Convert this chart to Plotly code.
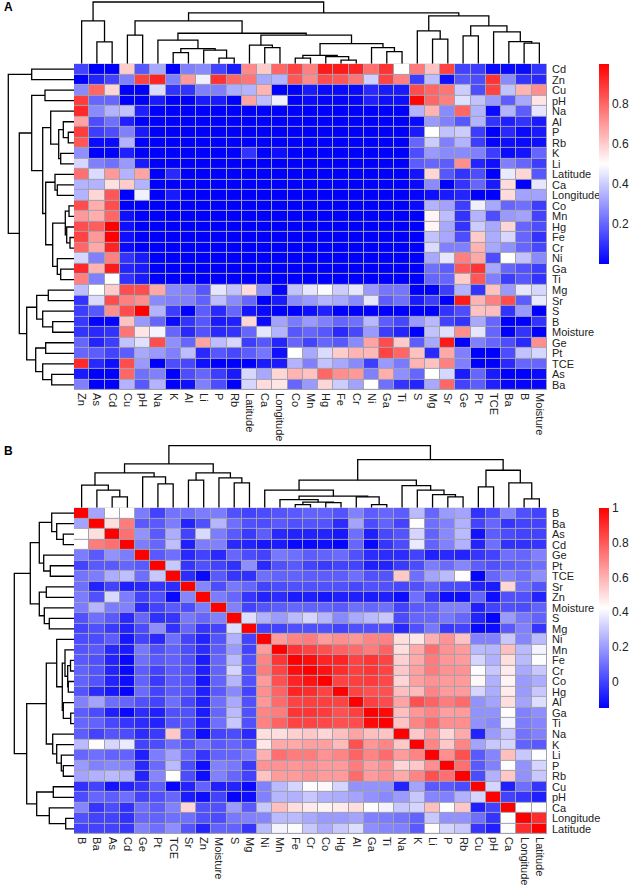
# -*- coding: utf-8 -*-
# Two clustered heatmaps (A: p values, B: correlations) with dendrograms
import plotly.graph_objects as go

W, H = 629, 886

# ---- panel A ----
a_cols = ["Zn", "As", "Cd", "Cu", "pH", "Na", "K", "Al", "Li", "P", "Rb", "Latitude", "Ca", "Longitude", "Co", "Mn",
          "Hg", "Fe", "Cr", "Ni", "Ga", "Ti", "S", "Mg", "Sr", "Ge", "Pt", "TCE", "Ba", "B", "Moisture"]
a_rows = ["Cd", "Zn", "Cu", "pH", "Na", "Al", "P", "Rb", "K", "Li", "Latitude", "Ca", "Longitude", "Co", "Mn", "Hg",
          "Fe", "Cr", "Ni", "Ga", "Ti", "Mg", "Sr", "S", "B", "Moisture", "Ge", "Pt", "TCE", "As", "Ba"]
a_vals = [
    [.13, 0, 0, .6, .17, .33, 0, .25, .27, .13, .05, .73, .6, .8, .87, .75, .95, .95, .93, .78, .9, .5, .76, .62, .87, .13, .12, .02, .02, .02, .1],
    [0, .07, .13, .25, .87, .93, .25, .7, .47, .9, .8, .77, .33, .35, .83, .73, .85, .83, .77, .41, .87, .75, .12, .37, .03, .17, .15, .9, .27, .1, .08],
    [.27, .8, .58, 0, 0, .43, .1, .1, .25, .25, .34, .35, .65, 0, 0, .05, .02, .02, .02, .08, .05, .05, .85, .8, .77, .4, .15, .87, .38, .65, .72],
    [.88, .2, .2, 0, 0, .05, 0, 0, .05, .05, 0, .68, .37, .47, 0, .02, .01, .01, .01, .06, .03, .03, .99, .8, .75, .44, .38, .3, .18, .33, .55],
    [.92, .27, .35, .38, .06, 0, 0, 0, 0, 0, 0, 0, 0, 0, 0, 0, 0, 0, 0, 0, 0, 0, .35, .65, .27, .8, .35, .02, .35, .18, .45],
    [.68, .15, .22, .06, 0, 0, 0, 0, 0, 0, 0, 0, 0, 0, 0, 0, 0, 0, 0, 0, 0, 0, .02, .3, .25, .17, .35, .1, .06, .1, .05],
    [.88, .12, .15, .25, .05, 0, 0, 0, 0, 0, 0, 0, 0, 0, 0, 0, 0, 0, 0, 0, 0, 0, .05, .5, .38, .4, .12, 0, .08, .02, .05],
    [.83, .02, .02, .35, 0, 0, 0, 0, 0, 0, 0, 0, 0, 0, 0, 0, 0, 0, 0, 0, 0, 0, .2, .4, .25, .35, .12, .01, .03, .02, .03],
    [.28, 0, 0, .06, 0, 0, 0, 0, 0, 0, 0, .1, 0, .03, 0, 0, 0, 0, 0, 0, 0, 0, .15, .3, .27, .27, .25, .12, .02, .04, .2],
    [.42, .25, .22, .3, .05, 0, 0, 0, 0, 0, 0, 0, 0, 0, 0, 0, 0, 0, 0, 0, 0, 0, .18, .2, .18, .72, .07, .03, .25, .2, .12],
    [.78, .43, .7, .35, .68, 0, .08, 0, 0, 0, 0, 0, 0, 0, 0, 0, 0, 0, 0, 0, 0, 0, .04, .58, .17, .1, .15, 0, .46, .58, .17],
    [.35, .35, .56, .6, .35, 0, 0, 0, 0, 0, 0, 0, 0, 0, 0, 0, 0, 0, 0, 0, 0, 0, .02, .27, 0, .1, .2, .05, .57, 0, .45],
    [.35, .58, .83, 0, .47, 0, .05, 0, 0, 0, 0, 0, 0, 0, 0, 0, 0, 0, 0, 0, 0, 0, .01, .03, .05, .07, 0, 0, .57, .32, .32],
    [.85, .66, .85, 0, 0, 0, 0, 0, 0, 0, 0, 0, 0, 0, 0, 0, 0, 0, 0, 0, 0, 0, .02, .35, .32, .12, .47, .33, .2, .22, .12],
    [.7, .66, .8, .03, 0, 0, 0, 0, 0, 0, 0, 0, 0, 0, 0, 0, 0, 0, 0, 0, 0, 0, 0, .52, .37, .1, .35, .15, .3, .32, .13],
    [.85, .82, 1, .03, 0, 0, 0, 0, 0, 0, 0, 0, 0, 0, 0, 0, 0, 0, 0, 0, 0, 0, 0, .52, .33, .1, .4, .33, .58, .2, .15],
    [.87, .7, 1, .03, 0, 0, 0, 0, 0, 0, 0, 0, 0, 0, 0, 0, 0, 0, 0, 0, 0, 0, 0, .38, .33, .15, .6, .34, .42, .2, .1],
    [.8, .67, .93, .02, 0, 0, 0, 0, 0, 0, 0, 0, 0, 0, 0, 0, 0, 0, 0, 0, 0, 0, 0, .43, .25, .25, .65, .33, .28, .2, .14],
    [.42, .25, .75, .1, .05, 0, 0, 0, 0, 0, 0, 0, 0, 0, 0, 0, 0, 0, 0, 0, 0, 0, 0, .33, .45, .75, .67, .15, .5, .38, .27],
    [.92, .65, .95, .07, .05, 0, 0, 0, 0, 0, 0, 0, 0, 0, 0, 0, 0, 0, 0, 0, 0, 0, 0, .22, .18, .83, .9, .33, .2, .16, .12],
    [.75, .25, .5, .1, .05, 0, 0, 0, 0, 0, 0, 0, 0, 0, 0, 0, 0, 0, 0, 0, 0, 0, 0, .2, .2, .6, .83, .25, .12, .17, .1],
    [.37, .5, .6, .85, .85, .67, .27, .25, .17, .45, .38, .57, .27, .01, .38, .45, .49, .4, .45, .3, .23, .23, 0, 0, .12, .35, .1, .62, .3, .45, .42],
    [.1, .43, .85, .75, .72, .27, .25, .25, .19, .37, .27, .2, 0, .05, .27, .3, .35, .33, .27, .45, .18, .22, .05, .12, 0, .95, .65, .75, .85, .18, .46],
    [.12, .17, .72, .85, 1, .35, .12, 0, .18, .08, .2, .04, .02, 0, 0, .03, .06, 0, 0, 0, 0, 0, 0, 0, .1, .15, .62, .63, .1, .3, 0],
    [.11, .01, .01, .62, .3, .2, .02, .1, .17, .05, .06, .58, .02, .32, .24, .3, .25, .2, .22, .36, .18, .14, .3, .36, .13, .1, .33, .2, 0, 0, .1],
    [.1, .08, .1, .77, .55, .48, .2, .08, .16, .08, .1, .2, .45, .35, .17, .2, .17, .08, .14, .3, .12, .07, 0, .38, .44, .72, .45, .2, 0, .1, 0],
    [.2, .07, .12, .38, .44, .85, .28, .2, .68, .37, .42, .12, .17, .07, .2, .13, .2, .17, .27, .68, .85, .6, .18, .33, .95, 0, .25, .2, .15, .08, .72],
    [.2, .18, .13, .18, .33, .3, .25, .37, .08, .17, .14, .18, .23, .03, .5, .33, .43, .6, .65, .64, .87, .8, .62, .08, .67, .25, 0, 0, .15, .38, .42],
    [.92, .08, .03, .85, .3, 0, .15, .14, .03, 0, 0, 0, .05, .05, .35, .25, .38, .33, .27, .12, .3, .24, .65, .62, .75, .25, 0, 0, .08, .2, .2],
    [.05, 0, 0, .8, .22, .25, 0, .15, .2, .12, .05, .42, .33, .58, .65, .62, .8, .72, .7, .25, .66, .28, .2, .5, .42, .05, .2, .05, 0, 0, .02],
    [.25, 0, 0, .35, .17, .35, 0, .03, .25, .15, 0, .42, .57, .55, .2, .3, .58, .4, .32, .5, .22, .1, .07, .33, .8, .13, .18, .06, .01, .01, .01],
]
a_ticks = [0.2, 0.4, 0.6, 0.8]
a_ticktext = ["0.2", "0.4", "0.6", "0.8"]

# dendrograms: (height, child, child), a plain int is a leaf position
a_top = (62, (43, 0, (22, 1, 2)),
         (51, (43, (28.7, 3, 4),
               (30.7, (23.7, 5, (15.3, (11.3, 6, 7), (13.7, 8, (5.7, 9, 10)))),
                (28.7, (18.7, 11, (16.3, 12, 13)),
                 (20.3, (8.5, (5.7, 14, 15), (7.3, 16, (3.7, 17, 18))), (16.3, 19, (12.3, 20, 21)))))),
          (48, (33, 22, (24.7, 23, 24)), (38, (28, 25, 26), (32, 27, (22.3, 28, (20.7, 29, 30)))))))
a_left = (65.7, (42.3, 0, 1),
          (54.7, (42.3, (29, 2, 3),
                  (31.3, (23.3, 4, (15.3, (10.7, 5, (5.7, 6, 7)), (13.3, 8, 9))),
                   (28.3, (19, 10, (16.7, 11, 12)),
                    (21.3, (8.7, (5, 13, 14), (7.3, 15, (4, 16, 17))), (16.7, 18, (13.3, 19, 20)))))),
           (47.3, (37.3, (25.7, 21, 22), (31.3, 23, (21.3, 24, 25))),
            (38.3, (28.3, 26, 27), (31.3, 28, (22.3, 29, 30))))))

# ---- panel B ----
b_labels = ["B", "Ba", "As", "Cd", "Ge", "Pt", "TCE", "Sr", "Zn", "Moisture", "S", "Mg", "Ni", "Mn", "Fe", "Cr",
            "Co", "Hg", "Al", "Ga", "Ti", "Na", "K", "Li", "P", "Rb", "Cu", "pH", "Ca", "Longitude", "Latitude"]
# upper triangle of the correlation matrix, each row starts on the diagonal
b_upper = [
    [1, .22, .43, .43, .13, 0, .11, .1, .13, .13, .03, 0, .02, .04, .05, .07, .07, .04, .14, .06, .08, .06, .27, .08, .2, .22, -.04, .02, .15, .03, 0],
    [1, .5, .72, .05, .05, .13, -.07, .03, .26, .1, .03, .02, .05, .03, .04, .04, -.05, .22, .02, .07, 0, .43, .1, .14, .25, 0, .08, -.03, 0, 0],
    [1, .75, .18, .05, .24, 0, .34, .13, .05, -.02, .06, -.06, -.07, -.07, -.07, -.1, .1, -.08, .01, .04, .33, .07, .16, .27, -.11, .06, .02, 0, 0],
    [1, .13, .08, .28, -.08, .13, .14, -.06, -.07, -.1, -.09, -.13, -.13, -.12, -.14, .08, -.13, -.03, .02, .38, .07, .14, .25, -.07, .1, -.04, -.04, -.03],
    [1, .05, .1, -.06, 0, -.06, .08, .02, 0, .12, .1, .06, .07, .09, .03, -.05, -.05, -.05, 0, -.08, -.06, -.07, -.03, 0, .1, .08, .14],
    [1, .3, -.03, .03, 0, -.04, .17, -.06, .03, .05, 0, -.02, 0, 0, -.08, -.07, -.02, .02, .13, .09, .15, .06, .03, .06, .07, .1],
    [1, -.05, -.13, .05, -.03, -.04, .1, .07, .07, .06, .06, .06, .1, .03, .04, .55, .1, .22, .27, .43, -.14, .08, .14, .1, .17],
    [1, .15, .02, .12, .08, 0, .02, .03, .03, .03, .03, .01, .03, .03, .01, .03, .08, .02, .02, -.07, -.09, .52, .1, .04],
    [1, .13, .08, -.03, -.07, -.05, -.09, -.08, -.1, -.08, -.08, -.09, -.08, -.12, .1, -.03, -.12, -.12, .07, -.12, .03, .03, -.07],
    [1, .14, 0, .04, .06, .08, .07, .07, .05, .1, .08, .1, 0, .05, .07, .14, .14, -.08, 0, .03, .02, .07],
    [1, .35, .25, .2, .27, .33, .26, .16, .23, .27, .3, .02, .08, .08, .12, .08, -.07, -.14, .2, .12, .07],
    [1, 0, 0, .03, .03, .03, 0, .03, .03, .03, -.06, .03, .12, -.02, 0, -.13, -.12, .05, .14, -.03],
    [1, .65, .7, .72, .65, .68, .66, .7, .71, .5, .48, .6, .67, .56, .14, .14, .3, .15, .27],
    [1, .88, .85, .82, .78, .76, .72, .78, .5, .62, .75, .67, .65, .27, .26, .57, .27, .4],
    [1, .97, .92, .92, .85, .88, .85, .53, .62, .72, .66, .65, .33, .25, .5, .27, .42],
    [1, .96, .9, .86, .88, .85, .55, .64, .72, .67, .67, .42, .3, .47, .23, .3],
    [1, .85, .86, .87, .84, .52, .64, .67, .65, .65, .44, .25, .45, .2, .24],
    [1, .85, .82, .82, .57, .58, .7, .65, .65, .33, .24, .47, .2, .3],
    [1, .86, .83, .63, .82, .78, .72, .76, .18, .22, .5, .22, .35],
    [1, .98, .57, .66, .7, .64, .65, .18, .18, .43, .14, .17],
    [1, .56, .7, .76, .68, .68, .18, .16, .4, .13, .15],
    [1, .55, .65, .52, .62, -.07, .2, .3, .11, .14],
    [1, .7, .55, .7, .22, .3, .33, .07, .05],
    [1, .68, .82, .05, .15, .57, .3, .42],
    [1, .75, .05, .14, .42, .18, .33],
    [1, .02, .25, .55, .18, .3],
    [1, .33, -.08, .1, -.03],
    [1, 0, -.03, -.08],
    [1, .42, .42],
    [1, .9],
    [1],
]
b_ticks = [0, 0.2, 0.4, 0.6, 0.8, 1]
b_ticktext = ["0", "0.2", "0.4", "0.6", "0.8", "1"]

b_top = (62.3, (44, (35, (22.7, 0, (17.7, 1, (11, 2, 3))), (31, 4, (24, 5, 6))),
                (35, (27.7, 7, 8), (30, 9, (25, 10, 11)))),
         (48.3, (27.7, (17.7, 12, (11.7, (8.3, 13, (5.7, (3.3, 14, 15), (5.3, 16, 17))), (11, 18, (3.3, 19, 20)))),
                 (22.3, 21, (17.7, 22, (13.3, 23, (11, 24, 25))))),
          (37.7, (21, 26, 27), (25, 28, (9, 29, 30)))))
b_left = (59.7, (43.7, (34.7, (22.3, 0, (17.3, 1, (10.7, 2, 3))), (30.3, 4, (23.7, 5, 6))),
                 (34.7, (27.7, 7, 8), (29.7, 9, (24.7, 10, 11)))),
          (47.3, (27.7, (17.3, 12, (11.7, (9, 13, (6.3, (3.5, 14, 15), (5.7, 16, 17))), (10.7, 18, (3.3, 19, 20)))),
                  (21.3, 21, (17.3, 22, (12.7, 23, (10.7, 24, 25))))),
           (37.3, (20.7, 26, 27), (24.7, 28, (8.3, 29, 30)))))

b_vals = [[0.0] * 31 for _ in range(31)]
for i, row in enumerate(b_upper):
    for k, v in enumerate(row):
        b_vals[i][i + k] = v
        b_vals[i + k][i] = v

colorscale = [[0, "#0000ff"], [0.5, "#ffffff"], [1, "#ff0000"]]
font_name = "Liberation Sans"


def tree_lines(node, pos_out, h_out):
    # walks the tree, returns (leaf position, height) of this node
    if isinstance(node, int):
        return node, 0
    h, left, right = node
    p1, h1 = tree_lines(left, pos_out, h_out)
    p2, h2 = tree_lines(right, pos_out, h_out)
    pos_out += [p1, p1, p2, p2, None]
    h_out += [h1, h, h, h2, None]
    return (p1 + p2) / 2, h


def add_panel(fig, n, top, cols, rows, vals, tree_top, tree_left, zmin, zmax, ticks, ticktext, bar_len):
    # n: first axis number of this panel (heat, top tree, left tree)
    heat_l, heat_r, heat_h, tree_w = 74, 547, 327, 74
    ids = [str(n), str(n + 1), str(n + 2)]
    ids = ["" if i == "1" else i for i in ids]

    fig.add_trace(go.Heatmap(
        z=vals, x=cols, y=rows, xaxis="x" + ids[0], yaxis="y" + ids[0],
        zmin=zmin, zmax=zmax, colorscale=colorscale, xgap=1, ygap=1, hoverinfo="skip",
        colorbar=dict(x=599 / W, xanchor="left", y=1 - top / H, yanchor="top", len=bar_len, lenmode="pixels",
                      thickness=10, thicknessmode="pixels", xpad=0, ypad=0, outlinewidth=0, ticks="",
                      tickmode="array", tickvals=ticks, ticktext=ticktext,
                      tickfont=dict(family=font_name, size=12, color="#222222"))))

    xs, ys = [], []
    tree_lines(tree_top, xs, ys)
    fig.add_trace(go.Scatter(x=xs, y=ys, xaxis="x" + ids[1], yaxis="y" + ids[1], mode="lines",
                             line=dict(color="black", width=1.3), hoverinfo="skip", showlegend=False, cliponaxis=False))
    ys, xs = [], []
    tree_lines(tree_left, ys, xs)
    fig.add_trace(go.Scatter(x=xs, y=ys, xaxis="x" + ids[2], yaxis="y" + ids[2], mode="lines",
                             line=dict(color="black", width=1.3), hoverinfo="skip", showlegend=False, cliponaxis=False))

    bottom = top + heat_h
    dom_x = [heat_l / W, heat_r / W]
    dom_y = [1 - bottom / H, 1 - top / H]
    tick = dict(family=font_name, size=11, color="#222222")
    off = dict(visible=False, showgrid=False, zeroline=False, fixedrange=True)
    fig.update_layout({
        "xaxis" + ids[0]: dict(domain=dom_x, anchor="y" + ids[0], side="bottom", tickangle=90, ticks="", tickfont=tick,
                               tickmode="linear", tick0=0, dtick=1, showgrid=False, zeroline=False, showline=False,
                               ticklabelstandoff=2),
        "yaxis" + ids[0]: dict(domain=dom_y, anchor="x" + ids[0], side="right", range=[30.5, -0.5], ticks="", tickfont=tick,
                               tickmode="linear", tick0=0, dtick=1, showgrid=False, zeroline=False, showline=False,
                               ticklabelstandoff=4),
        "xaxis" + ids[1]: dict(off, domain=dom_x, anchor="y" + ids[1], range=[-0.5, 30.5]),
        "yaxis" + ids[1]: dict(off, domain=[1 - top / H, 1 - (top - 63) / H], anchor="x" + ids[1], range=[0, 63]),
        "xaxis" + ids[2]: dict(off, domain=[0, heat_l / W], anchor="y" + ids[2], range=[tree_w, 0]),
        "yaxis" + ids[2]: dict(off, domain=dom_y, anchor="x" + ids[2], range=[30.5, -0.5]),
    })
    # grey seen through the cell gaps
    fig.add_shape(type="rect", xref="x" + ids[0] + " domain", yref="y" + ids[0] + " domain",
                  x0=0, x1=1, y0=0, y1=1, fillcolor="#a2a2ae", line_width=0, layer="below")


fig = go.Figure()
add_panel(fig, 1, 63, a_cols, a_rows, a_vals, a_top, a_left, 0, 1, a_ticks, a_ticktext, 200)
add_panel(fig, 4, 508, b_labels, b_labels, b_vals, b_top, b_left, -0.15, 1, b_ticks, b_ticktext, 200)

for letter, y in (("A", 6), ("B", 451)):
    fig.add_annotation(text="<b>" + letter + "</b>", x=2 / W, y=1 - y / H, xref="paper", yref="paper",
                       xanchor="left", yanchor="middle", showarrow=False,
                       font=dict(family=font_name, size=12, color="black"))

fig.update_layout(width=W, height=H, margin=dict(l=0, r=0, t=0, b=0), showlegend=False,
                  paper_bgcolor="white", plot_bgcolor="rgba(0,0,0,0)")

fig.write_html("out.html", config={"displayModeBar": False},
               post_script="document.body.style.margin='0';document.body.style.overflow='hidden';")
